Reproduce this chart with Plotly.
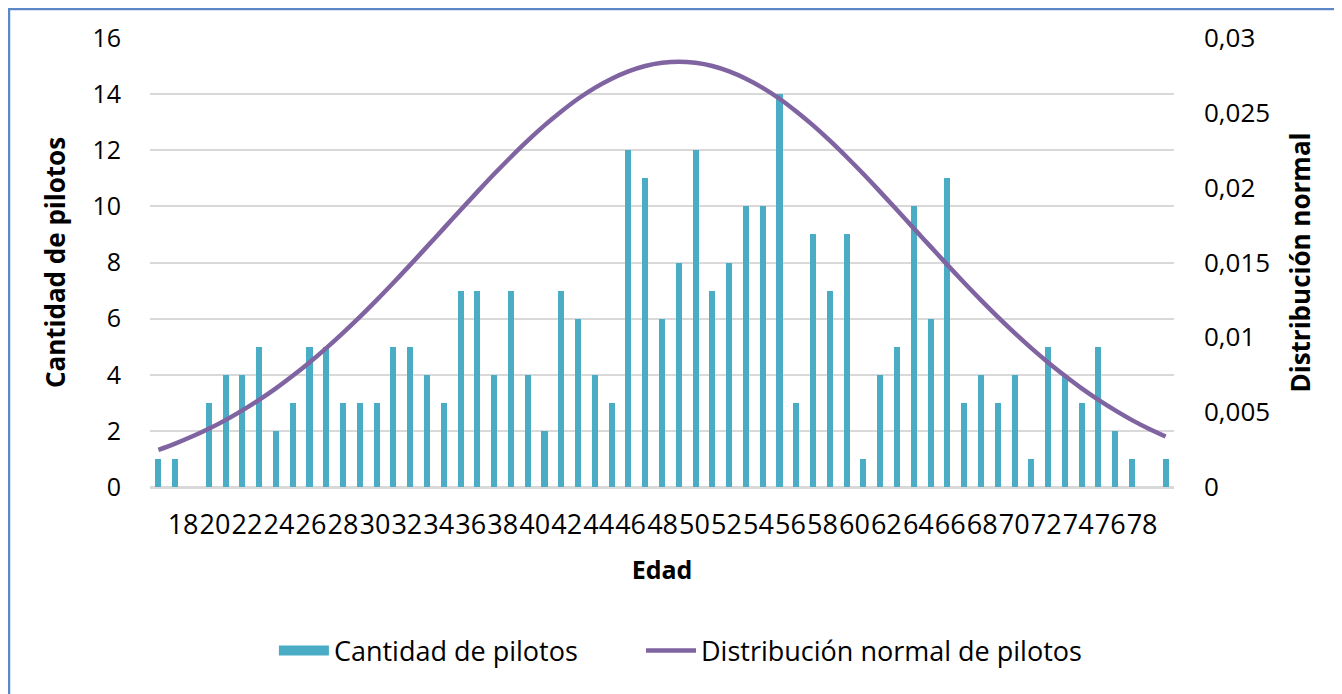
import numpy as np
import plotly.graph_objects as go

# ---- data ----
ages = list(range(18, 79))
pilot_counts = [1, 1, 0, 3, 4, 4, 5, 2, 3, 5,
                5, 3, 3, 3, 5, 5, 4, 3, 7, 7,
                4, 7, 4, 2, 7, 6, 4, 3, 12, 11,
                6, 8, 12, 7, 8, 10, 10, 14, 3, 9,
                7, 9, 1, 4, 5, 10, 6, 11, 3, 4,
                3, 4, 1, 5, 4, 3, 5, 2, 1, 0,
                1]
normal_dist = [0.00248, 0.00290, 0.00337, 0.00389, 0.00447, 0.00512, 0.00582, 0.00659,
               0.00743, 0.00832, 0.00928, 0.01030, 0.01137, 0.01249, 0.01365, 0.01484,
               0.01606, 0.01728, 0.01851, 0.01972, 0.02091, 0.02205, 0.02314, 0.02416,
               0.02509, 0.02594, 0.02667, 0.02728, 0.02777, 0.02813, 0.02834, 0.02842,
               0.02834, 0.02813, 0.02777, 0.02728, 0.02667, 0.02594, 0.02509, 0.02416,
               0.02314, 0.02205, 0.02091, 0.01972, 0.01851, 0.01728, 0.01606, 0.01484,
               0.01365, 0.01249, 0.01137, 0.01030, 0.00928, 0.00832, 0.00743, 0.00659,
               0.00582, 0.00512, 0.00447, 0.00389, 0.00337]
x_tick_labels = [str(a) for a in range(18, 79, 2)]
y_left_ticks = [0, 2, 4, 6, 8, 10, 12, 14, 16]
y_right_ticks = [0, 0.005, 0.01, 0.015, 0.02, 0.025, 0.03]
y_right_labels = ["0", "0,005", "0,01", "0,015", "0,02", "0,025", "0,03"]

# ---- styling ----
FONT = "Open Sans, DejaVu Sans, sans-serif"
BAR_COLOR = "#4BACC6"
LINE_COLOR = "#8064A2"
GRID = "#D9D9D9"

# labels packed as one contiguous band (as in the source), spread across the axis
label_pos = np.linspace(19.47, 76.60, len(x_tick_labels))

fig = go.Figure()
fig.add_trace(go.Bar(
    x=ages, y=pilot_counts, name="Cantidad de pilotos",
    marker=dict(color=BAR_COLOR, line=dict(width=0)), width=0.36,
    yaxis="y", showlegend=False, legendgroup="bars",
))
# legend swatch for the bars (wide block, as in the source legend)
fig.add_trace(go.Scatter(
    x=[None], y=[None], name="Cantidad de pilotos", mode="lines",
    line=dict(color=BAR_COLOR, width=18), legendgroup="bars", yaxis="y", legend="legend",
))
fig.add_trace(go.Scatter(
    x=ages, y=normal_dist, name="Distribución normal de pilotos",
    mode="lines", line=dict(color=LINE_COLOR, width=4.5, shape="spline"),
    yaxis="y2", legend="legend2",
))

legend_common = dict(orientation="h", yanchor="middle", y=-0.365, xanchor="left",
                     font=dict(size=27), itemwidth=50, bgcolor="rgba(0,0,0,0)")

fig.update_layout(
    width=1334, height=686,
    margin=dict(l=142, r=168, t=30, b=207),
    paper_bgcolor="white", plot_bgcolor="white",
    font=dict(family=FONT, color="#000000", size=24),
    bargap=0,
    xaxis=dict(
        range=[17.5, 78.5], tickmode="array", tickvals=list(label_pos), ticktext=x_tick_labels,
        tickfont=dict(size=27), tickangle=0, ticks="", showgrid=False, zeroline=False,
        showline=True, linecolor=GRID, linewidth=1.5, ticklabelstandoff=13,
        title=dict(text="<b>Edad</b>", font=dict(size=25), standoff=20),
    ),
    yaxis=dict(
        range=[0, 16], tickmode="array", tickvals=y_left_ticks,
        tickfont=dict(size=25), showgrid=True, gridcolor=GRID, gridwidth=1.5,
        zeroline=True, zerolinecolor=GRID, zerolinewidth=1.5, ticks="", ticklabelstandoff=28,
        title=dict(text="<b>Cantidad de pilotos</b>", font=dict(size=26), standoff=19),
    ),
    yaxis2=dict(
        range=[0, 0.03], overlaying="y", side="right", tickmode="array",
        tickvals=y_right_ticks, ticktext=y_right_labels, tickfont=dict(size=26),
        showgrid=False, zeroline=False, ticks="", ticklabelstandoff=29,
        title=dict(text="<b>Distribución normal</b>", font=dict(size=26), standoff=22),
    ),
    legend=dict(legend_common, x=0.121),
    legend2=dict(legend_common, x=0.4795),
    shapes=[dict(
        type="rect", xref="paper", yref="paper",
        x0=-0.1377, x1=1.2, y0=-0.5, y1=1.0646,
        line=dict(color="#5B87C6", width=2.5), fillcolor="rgba(0,0,0,0)", layer="below",
    )],
)

fig.write_html("out.html")
